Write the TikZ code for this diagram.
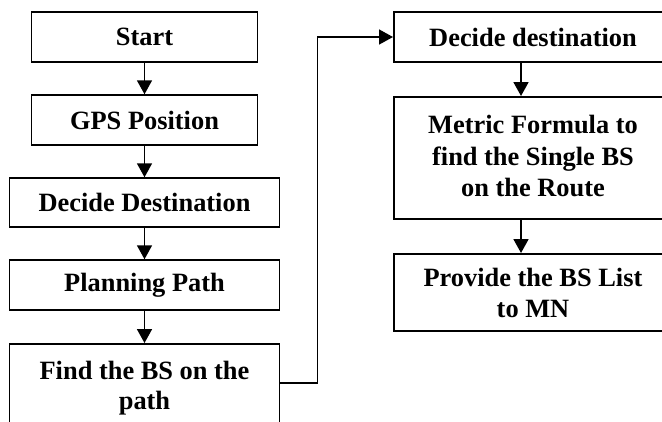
\documentclass[tikz,border=0pt]{standalone}
\usepackage{fontspec}
\setmainfont{Liberation Serif}
\usetikzlibrary{arrows.meta,calc}
\begin{document}
\begin{tikzpicture}[x=1bp,y=1bp,
  box/.style={draw, line width=1.5bp, rectangle, align=center, inner sep=0pt,
    font=\fontsize{26.5}{31}\selectfont\bfseries},
  arr/.style={line width=1.8bp, -{Triangle[length=14bp,width=15bp]}},
  link/.style={line width=1.5bp}]
\useasboundingbox (0,0) rectangle (662,-421);
\clip (0,0) rectangle (662,-421);
% left column
\node[box, minimum width=226bp, minimum height=50bp] (start) at (144.5,-37) {Start};
\node[box, minimum width=226bp, minimum height=50bp] (gps) at (144.5,-120) {GPS Position};
\node[box, minimum width=270bp, minimum height=49bp] (dd) at (144.5,-202.5) {Decide Destination};
\node[box, minimum width=270bp, minimum height=50bp] (plan) at (144.5,-285) {Planning Path};
\node[box, minimum width=270bp, minimum height=110bp, anchor=north] (find) at (144.5,-343) {};
\node[font=\fontsize{26.5}{30}\selectfont\bfseries, align=center] (findtxt) at (144.5,-388) {Find the BS on the\\path};
% right column
\node[box, minimum width=280bp, minimum height=50bp, anchor=west] (dd2) at (393,-37) {};
\node[font=\fontsize{26.5}{31}\selectfont\bfseries] (dd2txt) at (533,-37) {Decide destination};
\node[box, minimum width=280bp, minimum height=122bp, anchor=north west] (metric) at (393,-96) {};
\node[font=\fontsize{26.5}{31.5}\selectfont\bfseries, align=center] (metrictxt) at (533,-156) {Metric Formula to\\find the Single BS\\on the Route};
\node[box, minimum width=280bp, minimum height=77bp, anchor=north west] (prov) at (393,-253) {};
\node[font=\fontsize{26.5}{31}\selectfont\bfseries, align=center] (provtxt) at (533,-293) {Provide the BS List\\to MN};
% connectors
\coordinate (ax) at (521,0);
\draw[arr] (start) -- (gps);
\draw[arr] (gps) -- (dd);
\draw[arr] (dd) -- (plan);
\draw[arr] (plan) -- (find);
\coordinate (fo) at ($(find.north east)+(0,-40)$);
\draw[link, -{Triangle[length=14bp,width=15bp]}] (fo) -- ++(37,0) |- (dd2.west);
\draw[arr] (dd2.south -| ax) -- (metric.north -| ax);
\draw[arr] (metric.south -| ax) -- (prov.north -| ax);
\end{tikzpicture}
\end{document}
